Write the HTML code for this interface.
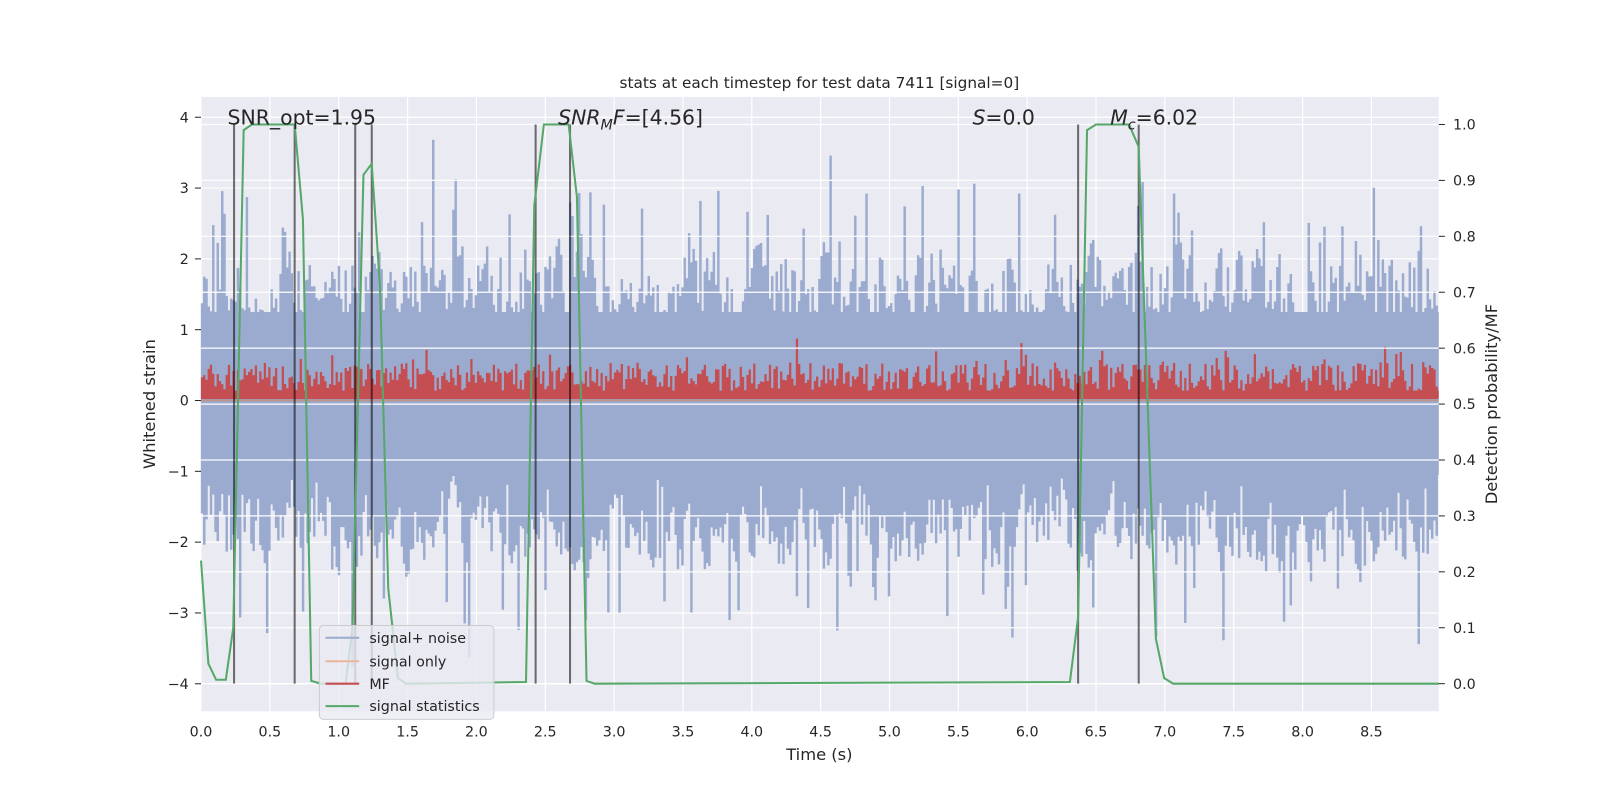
<!DOCTYPE html>
<html><head><meta charset="utf-8"><style>
body{margin:0;background:#fff;}
svg{display:block;font-family:"DejaVu Sans","Liberation Sans",sans-serif;}
</style></head><body>
<svg id="chart" width="1600" height="800" viewBox="0 0 1600 800">
<rect x="0" y="0" width="1600" height="800" fill="#fff"/>
<g transform="scale(1.0204)">
<rect x="197" y="95" width="1213" height="602" fill="#eaeaf2"/>
<g id="grid"></g>
<g id="noise"></g>
<line id="sigonly" stroke="#dd8452" stroke-opacity="0.6" stroke-width="1.5"/>
<g id="mf"></g>
<g id="grid2"></g>
<g id="vlines"></g>
<polyline id="green" fill="none" stroke="#55a868" stroke-width="2"/>
<g id="ticks"></g>
<text x="803" y="86" font-size="15" text-anchor="middle" fill="#262626">stats at each timestep for test data 7411 [signal=0]</text>
<text x="803" y="745" font-size="16" text-anchor="middle" fill="#262626">Time (s)</text>
<text transform="translate(152,396) rotate(-90)" font-size="16" text-anchor="middle" fill="#262626">Whitened strain</text>
<text transform="translate(1467,396) rotate(-90)" font-size="16" text-anchor="middle" fill="#262626">Detection probability/MF</text>
<text x="223" y="122" font-size="20" fill="#262626">SNR_opt=1.95</text>
<text x="547" y="122" font-size="20" fill="#262626"><tspan font-style="italic">SNR</tspan><tspan font-style="italic" font-size="14" dy="5">M</tspan><tspan font-style="italic" dy="-5">F</tspan>=[4.56]</text>
<text x="953" y="122" font-size="20" fill="#262626"><tspan font-style="italic">S</tspan>=0.0</text>
<text x="1088" y="122" font-size="20" fill="#262626"><tspan font-style="italic">M</tspan><tspan font-style="italic" font-size="14" dy="5">c</tspan><tspan dy="-5">=6.02</tspan></text>
<g>
<rect x="313" y="613" width="171" height="92" rx="4" fill="#eaeaf2" fill-opacity="0.8" stroke="#cccccc" stroke-width="1"/>
<line x1="319" y1="625" x2="352" y2="625" stroke="#9aabcf" stroke-width="2"/><text x="362" y="630" font-size="14" fill="#262626">signal+ noise</text>
<line x1="319" y1="648" x2="352" y2="648" stroke="#eab69a" stroke-width="2"/><text x="362" y="653" font-size="14" fill="#262626">signal only</text>
<line x1="319" y1="670" x2="352" y2="670" stroke="#c44e52" stroke-width="2"/><text x="362" y="675" font-size="14" fill="#262626">MF</text>
<line x1="319" y1="692" x2="352" y2="692" stroke="#55a868" stroke-width="2"/><text x="362" y="697" font-size="14" fill="#262626">signal statistics</text>
</g>
</g>
</svg>
<script>
const statTimes=[0,0.053,0.11,0.18,0.234,0.31,0.37,0.68,0.74,0.80,0.87,1.05,1.10,1.18,1.24,1.30,1.36,1.43,1.49,2.36,2.42,2.49,2.67,2.73,2.80,2.86,6.31,6.37,6.435,6.5,6.74,6.81,6.935,6.995,7.06,8.99];
const statProb=[0.22,0.036,0.007,0.007,0.10,0.99,1.0,1.0,0.83,0.005,0,0,0.1,0.91,0.93,0.71,0.17,0.01,0,0.003,0.855,1.0,1.0,0.87,0.005,0,0.003,0.12,0.99,1.0,1.0,0.96,0.08,0.01,0,0];
const markerTimes=[0.24,0.68,1.12,1.24,2.43,2.68,6.37,6.81];
const xTicks=[0,0.5,1,1.5,2,2.5,3,3.5,4,4.5,5,5.5,6,6.5,7,7.5,8,8.5];
const yTicks=[4,3,2,1,0,-1,-2,-3,-4];
const pTicks=[0,0.1,0.2,0.3,0.4,0.5,0.6,0.7,0.8,0.9,1.0];
const noiseHi=1.6, noiseLo=-1.8, mfLevel=0.33;
const NS='http://www.w3.org/2000/svg';
const X=t=>197+t*134.94, Y=v=>392.5-v*69.4, P=p=>670-p*548;
function mk(tag,attrs,parent){const e=document.createElementNS(NS,tag);for(const k in attrs)e.setAttribute(k,attrs[k]);parent.appendChild(e);return e;}
const grid=document.getElementById('grid'),grid2=document.getElementById('grid2'),ticks=document.getElementById('ticks');
xTicks.forEach(t=>{const l=mk('line',{x1:X(t),x2:X(t),y1:95,y2:697,stroke:'#fff','stroke-width':1.2},grid);

const tx=mk('text',{x:X(t),y:722,'font-size':14,'text-anchor':'middle',fill:'#262626'},ticks);tx.textContent=t.toFixed(1);
});
yTicks.forEach(v=>{const l=mk('line',{x1:197,x2:1410,y1:Y(v),y2:Y(v),stroke:'#fff','stroke-width':1.2},grid);

mk('line',{x1:191,x2:197,y1:Y(v),y2:Y(v),stroke:'#262626','stroke-width':1},ticks);
const tx=mk('text',{x:185,y:Y(v)+5,'font-size':14,'text-anchor':'end',fill:'#262626'},ticks);tx.textContent=v<0?'\u2212'+(-v):String(v);
});
pTicks.forEach(p=>{const l=mk('line',{x1:197,x2:1410,y1:P(p),y2:P(p),stroke:'#fff','stroke-width':1.2},grid2);

mk('line',{x1:1410,x2:1416,y1:P(p),y2:P(p),stroke:'#262626','stroke-width':1},ticks);
const tx=mk('text',{x:1424,y:P(p)+5,'font-size':14,fill:'#262626'},ticks);tx.textContent=p.toFixed(1);
});
// deterministic texture for the dense noise traces (not readable sample-by-sample)
let s=7411;function r(){s=(s*1103515245+12345)%2147483648;return s/2147483648;}
let dn='',dm='';let hw=0,lw=0;
for(let px=198;px<1410;px+=2.2){
 hw=hw*0.5+(r()-0.5)*0.9; lw=lw*0.5+(r()-0.5)*0.9;
 let hi=noiseHi+hw, lo=noiseLo+lw;
 const a=r(); if(a<0.14) hi+=r()*1.6; if(a>0.86) lo-=r()*1.6;
 if(r()<0.07) hi=0.9+r()*0.5; if(r()<0.07) lo=-1.1-r()*0.4;
 dn+=`M${px.toFixed(1)} ${Y(lo).toFixed(1)}V${Y(hi).toFixed(1)}`;
 let m=mfLevel+(r()-0.5)*0.4; if(r()<0.1) m+=r()*0.35;
 dm+=`M${px.toFixed(1)} ${Y(0.02).toFixed(1)}V${Y(m).toFixed(1)}`;
}
mk('rect',{x:197,y:Y(1.25),width:1213,height:Y(-1.05)-Y(1.25),fill:'#9aabcf'},document.getElementById('noise'));
mk('path',{d:dn,stroke:'#9aabcf','stroke-width':2.4,fill:'none'},document.getElementById('noise'));
mk('rect',{x:197,y:Y(0.14),width:1213,height:Y(0.03)-Y(0.14),fill:'#c44e52'},document.getElementById('mf'));
mk('path',{d:dm,stroke:'#c44e52','stroke-width':2.2,fill:'none'},document.getElementById('mf'));
const so=document.getElementById('sigonly');so.setAttribute('x1',197);so.setAttribute('x2',1410);so.setAttribute('y1',Y(0));so.setAttribute('y2',Y(0));
markerTimes.forEach(t=>{const l=mk('line',{x1:X(t),x2:X(t),y1:P(1),y2:P(0),stroke:'#000','stroke-opacity':0.55,'stroke-width':2},document.getElementById('vlines'));
});
document.getElementById('green').setAttribute('points',statTimes.map((t,i)=>X(t).toFixed(1)+','+P(statProb[i]).toFixed(1)).join(' '));
</script>
</body></html>
